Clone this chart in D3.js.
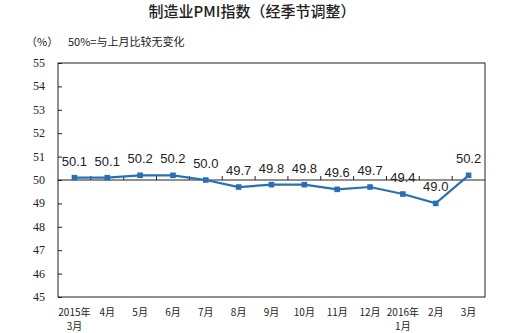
<!DOCTYPE html>
<html><head><meta charset="utf-8">
<script src="https://cdn.jsdelivr.net/npm/d3@7"></script>
<style>body{margin:0;background:#fff}svg{display:block}</style>
</head><body>
<svg id="c" width="529" height="333"></svg>
<script>
const categories = ["2015年|3月","4月","5月","6月","7月","8月","9月","10月","11月","12月","2016年|1月","2月","3月"];
const values = [50.1,50.1,50.2,50.2,50.0,49.7,49.8,49.8,49.6,49.7,49.4,49.0,50.2];
const yTicks = [45,46,47,48,49,50,51,52,53,54,55];
const title = "制造业PMI指数（经季节调整）";
const unitLabel = "（%）";
const note = "50%=与上月比较无变化";

const svg = d3.select("#c");
const L=58, R=485, T=63, B=297;
const x = d3.scaleBand().domain(categories).range([L,R]);
const y = d3.scaleLinear().domain([45,55]).range([B,T]);
const color = "#2a6fb3";

svg.append("text").attr("x",252).attr("y",17).attr("text-anchor","middle")
  .attr("font-family","'Noto Sans CJK SC'").attr("font-size",15).attr("font-weight",500).attr("fill","#222").text(title);
svg.append("text").attr("x",26).attr("y",46).attr("font-family","'Noto Sans CJK SC'").attr("font-size",11).attr("fill","#222").text(unitLabel);
svg.append("text").attr("x",68).attr("y",46).attr("font-family","'Noto Sans CJK SC'").attr("font-size",11).attr("fill","#222").text(note);

// frame
svg.append("rect").attr("x",L).attr("y",T).attr("width",R-L).attr("height",B-T)
  .attr("fill","none").attr("stroke","#222").attr("stroke-width",1);

// y axis
const ya = svg.append("g").attr("transform",`translate(${L},0)`)
  .call(d3.axisRight(y).tickValues(yTicks).tickSize(4).tickFormat(""));
ya.select(".domain").remove();
ya.selectAll("line").attr("stroke","#222");
svg.append("g").selectAll("text").data(yTicks).join("text")
  .attr("x",45).attr("y",d=>y(d)+4).attr("text-anchor","end")
  .attr("font-family","'Liberation Serif'").attr("font-size",12).attr("fill","#222").text(d=>d);

// 50 baseline with category ticks
svg.append("line").attr("x1",L).attr("x2",R).attr("y1",y(50)).attr("y2",y(50)).attr("stroke","#222");
svg.append("g").selectAll("line").data(categories.slice(1)).join("line")
  .attr("x1",d=>x(d)).attr("x2",d=>x(d)).attr("y1",y(50)).attr("y2",y(50)-4).attr("stroke","#222");

// x labels
const xl = svg.append("g").selectAll("text").data(categories).join("text")
  .attr("text-anchor","middle").attr("font-family","'Noto Sans CJK SC'").attr("font-size",10).attr("fill","#222");
xl.each(function(d){
  const parts=d.split("|"); const t=d3.select(this);
  const cx=x(d)+x.bandwidth()/2;
  t.append("tspan").attr("x",cx).attr("y",316).text(parts[0]);
  if(parts[1]) t.append("tspan").attr("x",cx).attr("y",330).text(parts[1]);
});

// line
const line = d3.line().x((d,i)=>x(categories[i])+x.bandwidth()/2).y(d=>y(d));
svg.append("path").datum(values).attr("d",line).attr("fill","none").attr("stroke",color).attr("stroke-width",2.2);
svg.append("g").selectAll("rect").data(values).join("rect")
  .attr("x",(d,i)=>x(categories[i])+x.bandwidth()/2-2.8).attr("y",d=>y(d)-2.8)
  .attr("width",5.6).attr("height",5.6).attr("fill",color);
svg.append("g").selectAll("text").data(values).join("text")
  .attr("x",(d,i)=>x(categories[i])+x.bandwidth()/2).attr("y",d=>y(d)-12)
  .attr("text-anchor","middle").attr("font-family","'Liberation Sans'").attr("font-size",13).attr("fill","#222")
  .text(d=>d.toFixed(1));
</script>
</body></html>
